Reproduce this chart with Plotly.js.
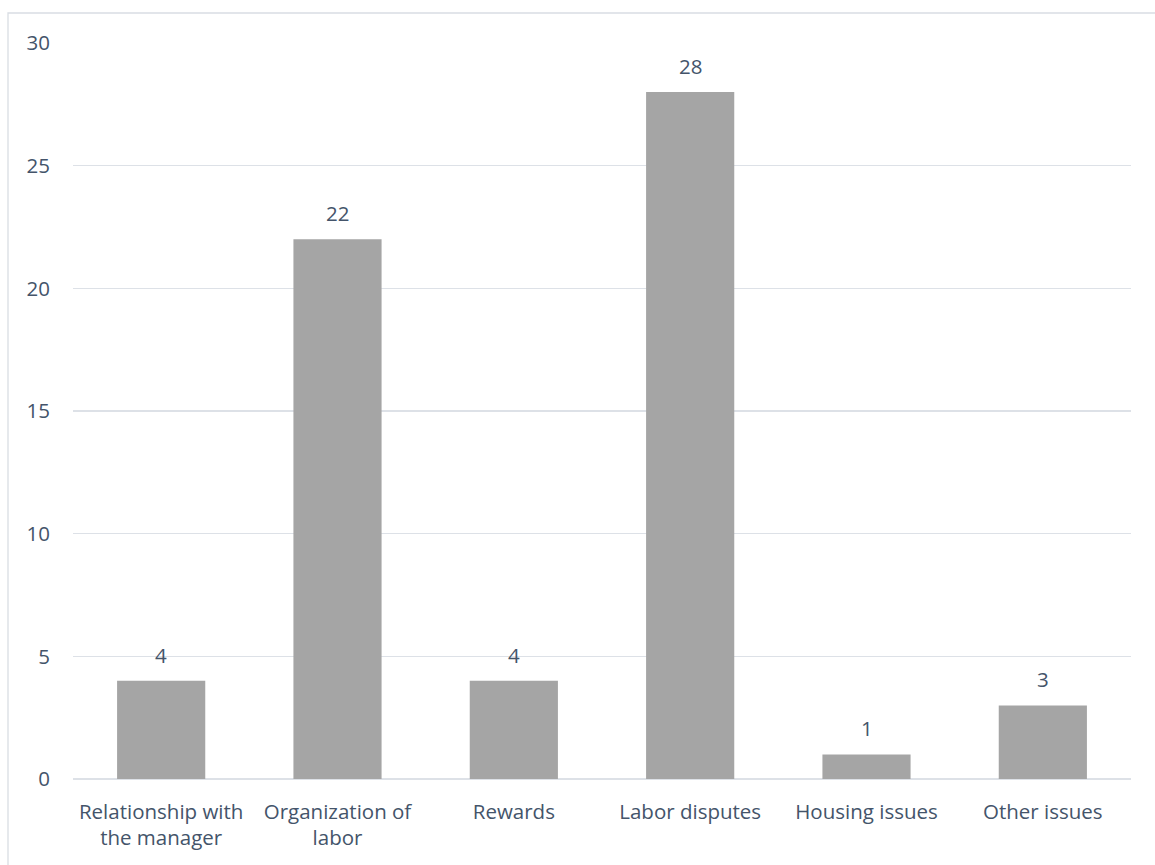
<!DOCTYPE html>
<html>
<head>
<meta charset="utf-8">
<script src="https://cdn.plot.ly/plotly-3.0.1.min.js"></script>
<style>html,body{margin:0;padding:0;background:#fff;}#chart{width:1155px;height:865px;}</style>
</head>
<body>
<div id="chart"></div>
<script>
const categories = ["Relationship with<br>the manager", "Organization of<br>labor", "Rewards", "Labor disputes", "Housing issues", "Other issues"];
const values = [4, 22, 4, 28, 1, 3];
const yTicks = [0, 5, 10, 15, 20, 25, 30];

const textColor = "#44546A";
const fontFamily = "Open Sans, Noto Sans, sans-serif";
const fontSize = 20.5;

const trace = {
  type: "bar",
  x: categories,
  y: values,
  marker: {color: "#A5A5A5", line: {width: 0}},
  width: 0.5,
  hoverinfo: "none"
};

const annotations = categories.map((c, i) => ({
  x: c, y: values[i], xref: "x", yref: "y",
  text: String(values[i]), showarrow: false,
  yanchor: "bottom", yshift: 10,
  font: {family: fontFamily, size: fontSize, color: textColor}
}));

const layout = {
  width: 1155, height: 865,
  margin: {l: 73, r: 24, t: 43, b: 86},
  paper_bgcolor: "#ffffff",
  plot_bgcolor: "#ffffff",
  showlegend: false,
  font: {family: fontFamily, size: fontSize, color: textColor},
  bargap: 0.5,
  xaxis: {
    type: "category",
    showgrid: false,
    zeroline: false,
    showline: false,
    ticks: "",
    ticklabelstandoff: 18,
    tickfont: {family: fontFamily, size: fontSize, color: textColor},
    automargin: false
  },
  yaxis: {
    range: [0, 30],
    tickvals: yTicks,
    ticktext: yTicks.map(String),
    showgrid: true,
    gridcolor: "#DDE1E7",
    gridwidth: 1.3,
    zeroline: true,
    zerolinecolor: "#DDE1E7",
    zerolinewidth: 1.5,
    showline: false,
    ticks: "",
    ticklabelstandoff: 22,
    tickfont: {family: fontFamily, size: fontSize, color: textColor},
    automargin: false
  },
  annotations: annotations,
  shapes: [{
    type: "rect", xref: "paper", yref: "paper",
    x0: (8 - 73) / 1058, x1: (1160 - 73) / 1058,
    y0: (779 - 870) / 736, y1: (779 - 13) / 736,
    line: {color: "#D9DDE3", width: 1.3},
    fillcolor: "rgba(0,0,0,0)",
    layer: "below"
  }]
};

Plotly.newPlot("chart", [trace], layout, {displayModeBar: false, staticPlot: true});
</script>
</body>
</html>
